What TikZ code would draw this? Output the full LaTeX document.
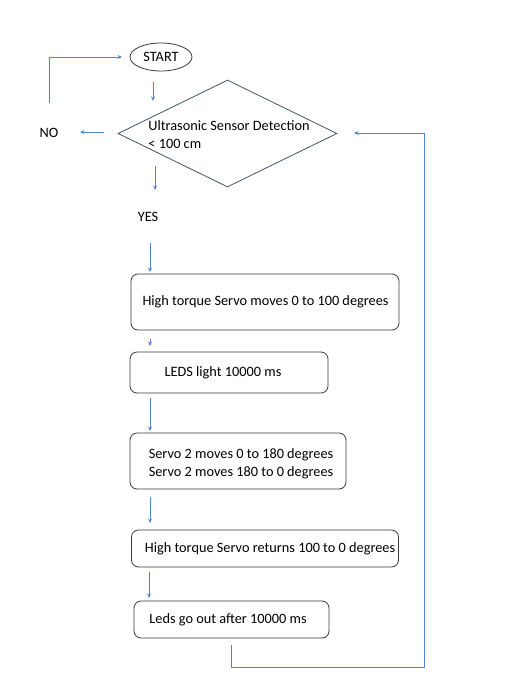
\documentclass[tikz,border=0pt]{standalone}
\usepackage{fontspec}
\setmainfont{Carlito}
\usetikzlibrary{arrows.meta,shapes.geometric}
\definecolor{linec}{HTML}{5584D4}
\definecolor{boxc}{HTML}{3A3A3A}
\definecolor{diac}{HTML}{44546A}
\begin{document}
\begin{tikzpicture}[x=1pt,y=-1pt,
  box/.style={draw=boxc, line width=0.8pt, rounded corners=7pt, inner sep=0pt},
  arr/.style={draw=linec, line width=0.7pt, -{Stealth[length=4.5pt,width=4pt]}},
  txt/.style={font=\fontsize{14.3}{17.8}\selectfont, text=black, inner sep=0pt}]
\useasboundingbox (0,0) rectangle (515,697);
\fill[white] (0,0) rectangle (515,697);
% start
\node[draw=boxc, line width=0.8pt, ellipse, minimum width=62pt, minimum height=28pt, inner sep=0pt, txt] (start) at (161,57) {START};
% decision
\node[draw=diac, line width=0.8pt, diamond, minimum width=219pt, minimum height=107pt, inner sep=0pt] (dia) at (227.5,133.5) {};
\node[txt, align=left] (diat) at (229,134.5) {Ultrasonic Sensor Detection\\< 100 cm};
\node[txt] (no) at (49,133) {NO};
\node[txt] (yes) at (148,217) {YES};
% boxes
\node[box, minimum width=268pt, minimum height=56pt] (b1) at (265,302) {};
\node[txt] (t1) at (265.5,302) {High torque Servo moves 0 to 100 degrees};
\node[box, minimum width=198pt, minimum height=41pt] (b2) at (229,372.5) {};
\node[txt] (t2) at (223,373) {LEDS light 10000 ms};
\node[box, minimum width=216pt, minimum height=56pt] (b3) at (238,461) {};
\node[txt, align=left] (t3) at (241,464) {Servo 2 moves 0 to 180 degrees\\Servo 2 moves 180 to 0 degrees};
\node[box, minimum width=267pt, minimum height=37pt] (b4) at (265,548.5) {};
\node[txt] (t4) at (270,549) {High torque Servo returns 100 to 0 degrees};
\node[box, minimum width=195pt, minimum height=37pt] (b5) at (231.5,619.5) {};
\node[txt] (t5) at (228,620) {Leds go out after 10000 ms};
% connector end points
\coordinate (a1s) at (153,82);  \coordinate (a1e) at (153,101);
\coordinate (nos) at (104,132); \coordinate (noe) at (80,132);
\coordinate (upS) at (49,103);  \coordinate (upE) at (122,57);
\coordinate (a2s) at (155,166); \coordinate (a2e) at (155,190);
\coordinate (a3s) at (150,243); \coordinate (a3e) at (150,272);
\coordinate (a4s) at (150,339); \coordinate (a4e) at (150,346);
\coordinate (a5s) at (150,398); \coordinate (a5e) at (150,431);
\coordinate (a6s) at (150,497); \coordinate (a6e) at (150,523);
\coordinate (a7s) at (149,572); \coordinate (a7e) at (149,598);
\coordinate (rs) at (231,645);  \coordinate (re) at (354,133);
% connectors
\draw[arr] (a1s) -- (a1e);
\draw[arr] (nos) -- (noe);
\draw[arr] (upS) -- (49,57) -- (upE);
\draw[arr] (a2s) -- (a2e);
\draw[arr] (a3s) -- (a3e);
\draw[arr] (a4s) -- (a4e);
\draw[arr] (a5s) -- (a5e);
\draw[arr] (a6s) -- (a6e);
\draw[arr] (a7s) -- (a7e);
\draw[arr] (rs) -- (231,667) -- (424,667) -- (424,133) -- (re);
\end{tikzpicture}
\end{document}
